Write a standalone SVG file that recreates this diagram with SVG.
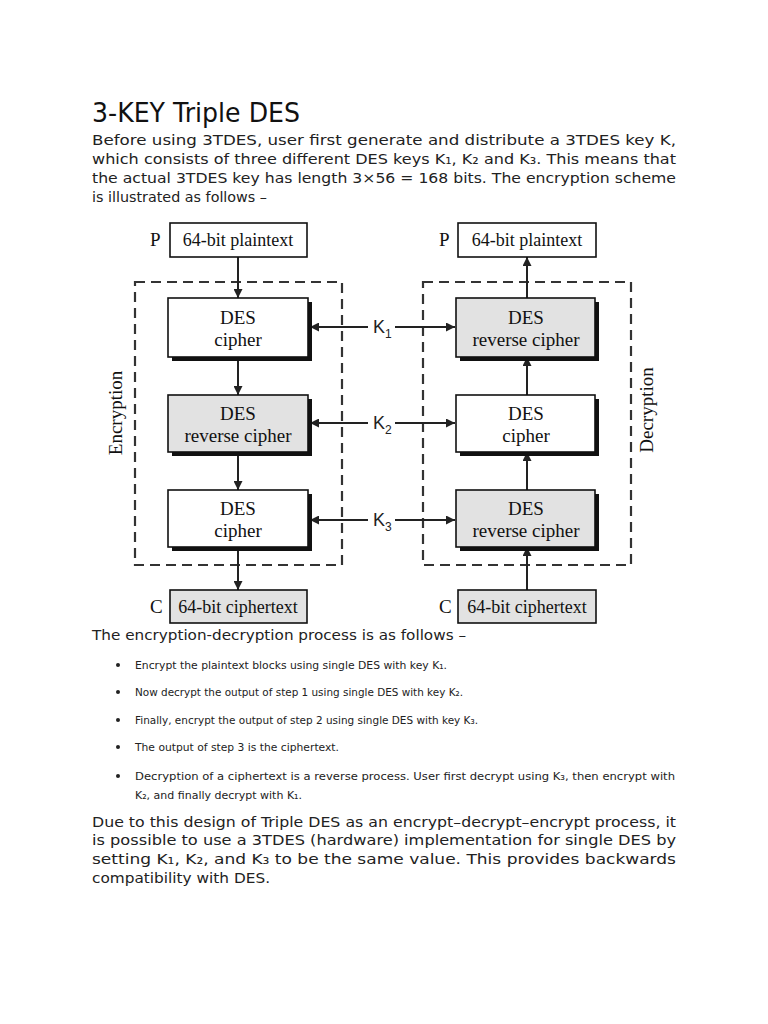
<svg xmlns="http://www.w3.org/2000/svg" width="768" height="1024" viewBox="0 0 768 1024">
<defs>
<style>
.body{font-family:"DejaVu Sans","Liberation Sans",sans-serif;font-size:14.5px;fill:#222}
.small{font-family:"DejaVu Sans","Liberation Sans",sans-serif;font-size:11px;fill:#222}
.title{font-family:"DejaVu Sans","Liberation Sans",sans-serif;font-size:27px;fill:#111}
.dg{font-family:"Liberation Serif","Times New Roman",serif;font-size:19px;fill:#111;text-anchor:middle}
.io{font-family:"Liberation Serif","Times New Roman",serif;font-size:18px;fill:#111;text-anchor:middle}
.lbl{font-family:"Liberation Serif","Times New Roman",serif;font-size:19px;fill:#111}
.key{font-family:"Liberation Sans",Arial,sans-serif;font-size:18px;fill:#222}
.box{stroke:#111;stroke-width:1.6}
.white{fill:#fff}
.gray{fill:#e2e2e2}
.shadow{fill:#111}
.dash{fill:none;stroke:#333;stroke-width:2.2;stroke-dasharray:10 6}
.ln{stroke:#222;stroke-width:2;fill:none}
</style>
<marker id="ah" viewBox="0 0 10 10" refX="10" refY="5" markerWidth="9" markerHeight="9" markerUnits="userSpaceOnUse" orient="auto">
<path d="M0,0 L10,5 L0,10 Z" fill="#222"/>
</marker>
</defs>
<rect width="768" height="1024" fill="#fff"/>

<g id="title"><text class="title" x="92" y="122" textLength="208" lengthAdjust="spacingAndGlyphs">3-KEY Triple DES</text></g>

<g id="intro">
<text class="body" x="92" y="145" textLength="584" lengthAdjust="spacingAndGlyphs">Before using 3TDES, user first generate and distribute a 3TDES key K,</text>
<text class="body" x="92" y="164" textLength="584" lengthAdjust="spacingAndGlyphs">which consists of three different DES keys K₁, K₂ and K₃. This means that</text>
<text class="body" x="92" y="183" textLength="584" lengthAdjust="spacingAndGlyphs">the actual 3TDES key has length 3×56 = 168 bits. The encryption scheme</text>
<text class="body" x="92" y="202" textLength="175" lengthAdjust="spacingAndGlyphs">is illustrated as follows –</text>
</g>

<g id="encryption-frame"><rect class="dash" x="135" y="282" width="207" height="283"/></g>
<g id="decryption-frame"><rect class="dash" x="423" y="282" width="208" height="283"/></g>

<g id="enc-label"><text class="lbl" transform="translate(122,413) rotate(-90)" text-anchor="middle">Encryption</text></g>
<g id="dec-label"><text class="lbl" transform="translate(653,410) rotate(-90)" text-anchor="middle">Decryption</text></g>

<g id="connectors">
<line class="ln" x1="238" y1="257" x2="238" y2="298" marker-end="url(#ah)"/>
<line class="ln" x1="238" y1="357" x2="238" y2="395" marker-end="url(#ah)"/>
<line class="ln" x1="238" y1="452" x2="238" y2="490" marker-end="url(#ah)"/>
<line class="ln" x1="238" y1="547" x2="238" y2="590" marker-end="url(#ah)"/>
<line class="ln" x1="527" y1="298" x2="527" y2="257" marker-end="url(#ah)"/>
<line class="ln" x1="527" y1="395" x2="527" y2="357" marker-end="url(#ah)"/>
<line class="ln" x1="527" y1="490" x2="527" y2="452" marker-end="url(#ah)"/>
<line class="ln" x1="527" y1="590" x2="527" y2="547" marker-end="url(#ah)"/>
<line class="ln" x1="368" y1="327" x2="310" y2="327" marker-end="url(#ah)"/>
<line class="ln" x1="395" y1="327" x2="455" y2="327" marker-end="url(#ah)"/>
<line class="ln" x1="368" y1="423" x2="310" y2="423" marker-end="url(#ah)"/>
<line class="ln" x1="395" y1="423" x2="455" y2="423" marker-end="url(#ah)"/>
<line class="ln" x1="368" y1="520" x2="310" y2="520" marker-end="url(#ah)"/>
<line class="ln" x1="395" y1="520" x2="455" y2="520" marker-end="url(#ah)"/>
</g>

<g id="k1"><text class="key" x="373" y="333">K<tspan font-size="12" dy="5">1</tspan></text></g>
<g id="k2"><text class="key" x="373" y="429">K<tspan font-size="12" dy="5">2</tspan></text></g>
<g id="k3"><text class="key" x="373" y="526">K<tspan font-size="12" dy="5">3</tspan></text></g>

<g id="enc-plaintext">
<text class="lbl" x="150" y="246">P</text>
<rect class="box white" x="170" y="223" width="137" height="34"/>
<text class="io" x="238" y="246">64-bit plaintext</text>
</g>
<g id="enc-des1">
<rect class="shadow" x="172" y="302" width="140" height="59"/>
<rect class="box white" x="168" y="298" width="140" height="59"/>
<text class="dg" x="238" y="324">DES</text>
<text class="dg" x="238" y="346">cipher</text>
</g>
<g id="enc-des2">
<rect class="shadow" x="172" y="399" width="140" height="57"/>
<rect class="box gray" x="168" y="395" width="140" height="57"/>
<text class="dg" x="238" y="420">DES</text>
<text class="dg" x="238" y="442">reverse cipher</text>
</g>
<g id="enc-des3">
<rect class="shadow" x="172" y="494" width="140" height="57"/>
<rect class="box white" x="168" y="490" width="140" height="57"/>
<text class="dg" x="238" y="515">DES</text>
<text class="dg" x="238" y="537">cipher</text>
</g>
<g id="enc-ciphertext">
<text class="lbl" x="150" y="613">C</text>
<rect class="box gray" x="170" y="590" width="137" height="33"/>
<text class="io" x="238" y="613">64-bit ciphertext</text>
</g>

<g id="dec-plaintext">
<text class="lbl" x="439" y="246">P</text>
<rect class="box white" x="458" y="223" width="138" height="34"/>
<text class="io" x="527" y="246">64-bit plaintext</text>
</g>
<g id="dec-des1">
<rect class="shadow" x="460" y="302" width="139" height="59"/>
<rect class="box gray" x="456" y="298" width="139" height="59"/>
<text class="dg" x="526" y="324">DES</text>
<text class="dg" x="526" y="346">reverse cipher</text>
</g>
<g id="dec-des2">
<rect class="shadow" x="460" y="399" width="139" height="57"/>
<rect class="box white" x="456" y="395" width="139" height="57"/>
<text class="dg" x="526" y="420">DES</text>
<text class="dg" x="526" y="442">cipher</text>
</g>
<g id="dec-des3">
<rect class="shadow" x="460" y="494" width="139" height="57"/>
<rect class="box gray" x="456" y="490" width="139" height="57"/>
<text class="dg" x="526" y="515">DES</text>
<text class="dg" x="526" y="537">reverse cipher</text>
</g>
<g id="dec-ciphertext">
<text class="lbl" x="439" y="613">C</text>
<rect class="box gray" x="458" y="590" width="138" height="33"/>
<text class="io" x="527" y="613">64-bit ciphertext</text>
</g>

<g id="process">
<text class="body" x="92" y="640" textLength="374" lengthAdjust="spacingAndGlyphs">The encryption-decryption process is as follows –</text>
<circle cx="118" cy="665" r="2" fill="#222"/>
<text class="small" x="135" y="669" textLength="312" lengthAdjust="spacingAndGlyphs">Encrypt the plaintext blocks using single DES with key K₁.</text>
<circle cx="118" cy="692" r="2" fill="#222"/>
<text class="small" x="135" y="696" textLength="328" lengthAdjust="spacingAndGlyphs">Now decrypt the output of step 1 using single DES with key K₂.</text>
<circle cx="118" cy="720" r="2" fill="#222"/>
<text class="small" x="135" y="724" textLength="343" lengthAdjust="spacingAndGlyphs">Finally, encrypt the output of step 2 using single DES with key K₃.</text>
<circle cx="118" cy="747" r="2" fill="#222"/>
<text class="small" x="135" y="751" textLength="204" lengthAdjust="spacingAndGlyphs">The output of step 3 is the ciphertext.</text>
<circle cx="118" cy="776" r="2" fill="#222"/>
<text class="small" x="135" y="780" textLength="540" lengthAdjust="spacingAndGlyphs">Decryption of a ciphertext is a reverse process. User first decrypt using K₃, then encrypt with</text>
<text class="small" x="135" y="799" textLength="167" lengthAdjust="spacingAndGlyphs">K₂, and finally decrypt with K₁.</text>
</g>

<g id="conclusion">
<text class="body" x="92" y="827" textLength="584" lengthAdjust="spacingAndGlyphs">Due to this design of Triple DES as an encrypt–decrypt–encrypt process, it</text>
<text class="body" x="92" y="845" textLength="584" lengthAdjust="spacingAndGlyphs">is possible to use a 3TDES (hardware) implementation for single DES by</text>
<text class="body" x="92" y="864" textLength="584" lengthAdjust="spacingAndGlyphs">setting K₁, K₂, and K₃ to be the same value. This provides backwards</text>
<text class="body" x="92" y="883" textLength="178" lengthAdjust="spacingAndGlyphs">compatibility with DES.</text>
</g>
</svg>
